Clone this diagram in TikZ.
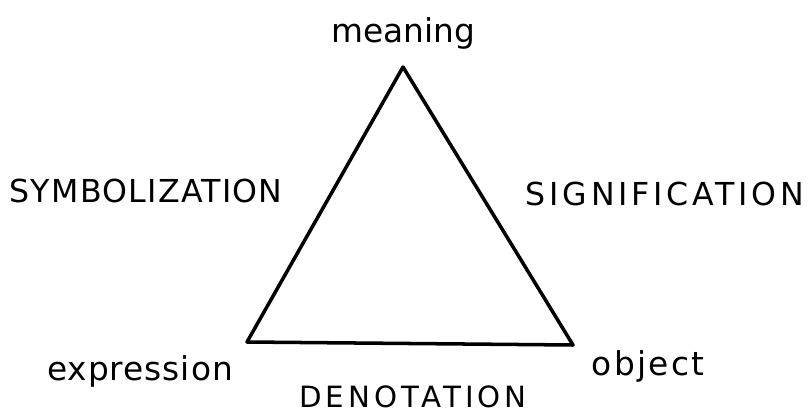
\documentclass[tikz,border=0pt]{standalone}
\usepackage{fontspec}
\setmainfont{DejaVu Sans}
\usepackage{tikz}
\begin{document}
\begin{tikzpicture}[x=0.03cm, y=-0.03cm, side/.style={line width=3pt, line join=round, line cap=round}, low/.style={font=\fontsize{28}{30}\selectfont\addfontfeature{LetterSpace=#1}, anchor=base, inner sep=0pt}, caps/.style={font=\fontsize{27}{30}\selectfont\addfontfeature{LetterSpace=#1}, inner sep=0pt}]
\useasboundingbox (0,0) rectangle (811,416);
\coordinate (top) at (403,67); \coordinate (left) at (247,342); \coordinate (right) at (573,345);
\draw[side] (top) -- (left) -- (right) -- cycle;
\node[low=0] (meaning) at (403,42) {meaning};
\node[low=3] (expression) at (140,380) {expression};
\node[low=7] (object) at (648,375) {object};
\node[caps=4] (symb) at (146,191) {SYMBOLIZATION};
\node[caps=12] (sign) at (665,194) {SIGNIFICATION};
\node[caps=14, font=\fontsize{25}{28}\selectfont\addfontfeature{LetterSpace=14}] (deno) at (413,397) {DENOTATION};
\end{tikzpicture}
\end{document}
